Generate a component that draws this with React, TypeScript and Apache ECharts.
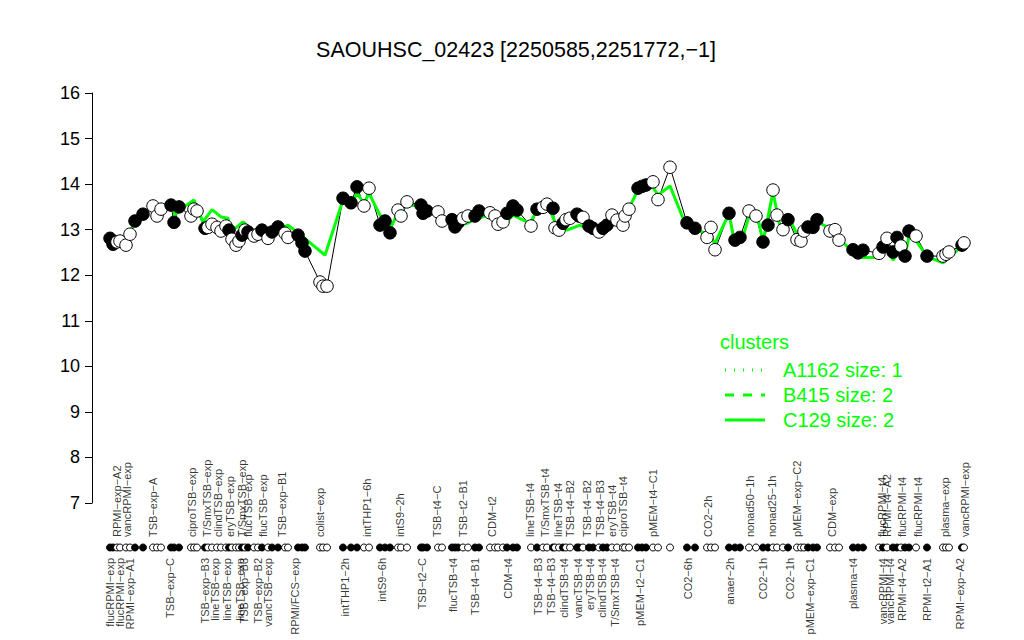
import React, { useEffect, useRef } from "react";
import * as echarts from "echarts";

const TITLE = "SAOUHSC_02423 [2250585,2251772,−1]";
const FONT = "'Liberation Sans', Arial, Helvetica, sans-serif";
const GREEN = "#00ff00";

// sample positions along the x axis (ordered), their expression values and fill flag (1 = filled)
const pointX = [18, 21, 25, 28, 34, 38, 43, 51, 61, 65, 69, 79, 82, 87, 99, 102, 105, 113, 116, 120, 125, 129, 134, 137, 140, 144, 147, 150, 153, 156, 162, 166, 170, 176, 180, 186, 193, 196, 206, 210, 213, 228, 231, 235, 251, 259, 265, 272, 277, 288, 293, 298, 306, 309, 315, 329, 331, 335, 346, 350, 360, 363, 366, 371, 376, 383, 387, 398, 403, 406, 411, 415, 421, 425, 439, 445, 451, 455, 461, 463, 467, 471, 474, 478, 485, 487, 491, 497, 501, 507, 511, 515, 520, 525, 531, 533, 537, 546, 550, 554, 561, 566, 578, 595, 603, 615, 619, 623, 637, 643, 648, 657, 664, 671, 676, 681, 685, 691, 696, 705, 709, 712, 716, 721, 725, 738, 743, 747, 761, 766, 771, 787, 791, 795, 801, 805, 809, 813, 817, 824, 835, 851, 854, 857, 870, 872];
const pointY = [12.81, 12.68, 12.73, 12.75, 12.66, 12.9, 13.19, 13.34, 13.52, 13.3, 13.45, 13.54, 13.16, 13.5, 13.3, 13.45, 13.41, 13.03, 13.05, 13.12, 13.05, 12.97, 13.08, 12.99, 12.79, 12.66, 12.75, 12.88, 12.99, 12.95, 12.86, 12.9, 12.99, 12.81, 12.95, 13.06, 12.92, 12.83, 12.88, 12.71, 12.53, 11.85, 11.76, 11.76, 13.69, 13.59, 13.94, 13.52, 13.91, 13.1, 13.19, 12.93, 13.43, 13.3, 13.61, 13.54, 13.36, 13.41, 13.39, 13.19, 13.22, 13.06, 13.15, 13.25, 13.3, 13.3, 13.41, 13.37, 13.3, 13.12, 13.17, 13.36, 13.52, 13.43, 13.08, 13.45, 13.49, 13.56, 13.47, 13.04, 12.99, 13.14, 13.22, 13.25, 13.34, 13.3, 13.27, 13.08, 13.03, 12.95, 13.03, 13.1, 13.32, 13.21, 13.1, 13.3, 13.45, 13.91, 13.95, 13.98, 14.05, 13.66, 14.37, 13.15, 13.03, 12.83, 13.05, 12.56, 13.36, 12.77, 12.83, 13.41, 13.3, 12.73, 13.1, 13.87, 13.32, 13.0, 13.22, 12.78, 12.75, 12.97, 13.06, 13.05, 13.22, 12.97, 13.0, 12.77, 12.56, 12.49, 12.55, 12.48, 12.62, 12.81, 12.51, 12.83, 12.64, 12.42, 12.97, 12.86, 12.42, 12.42, 12.46, 12.51, 12.66, 12.71];
const pointFilled = [1, 1, 0, 0, 0, 0, 1, 1, 0, 0, 0, 1, 1, 1, 0, 0, 0, 1, 0, 0, 0, 0, 0, 1, 0, 0, 0, 1, 0, 1, 0, 0, 1, 0, 1, 1, 0, 0, 1, 1, 1, 0, 0, 0, 1, 1, 1, 0, 0, 1, 1, 1, 0, 0, 0, 1, 1, 1, 0, 0, 1, 1, 1, 0, 0, 1, 1, 0, 0, 0, 0, 1, 1, 1, 0, 1, 0, 0, 1, 0, 0, 1, 0, 0, 1, 1, 0, 1, 1, 0, 1, 1, 0, 0, 0, 0, 0, 1, 1, 1, 0, 0, 0, 1, 1, 0, 0, 0, 1, 1, 1, 0, 0, 1, 1, 0, 0, 0, 1, 0, 0, 0, 1, 1, 1, 0, 0, 0, 1, 1, 1, 0, 1, 0, 1, 1, 0, 1, 1, 0, 1, 0, 0, 0, 1, 0];

// cluster C129 profile (green line)
const greenX = [18, 28, 38, 43, 51, 60, 68, 80, 83, 88, 102, 111, 120, 129, 136, 139, 151, 160, 176, 185, 196, 205, 233, 251, 260, 265, 272, 277, 288, 293, 298, 306, 315, 328, 335, 348, 360, 375, 385, 398, 410, 421, 438, 445, 458, 465, 475, 488, 501, 511, 531, 546, 561, 566, 578, 591, 595, 603, 616, 623, 637, 643, 650, 658, 666, 671, 681, 688, 698, 706, 715, 724, 741, 748, 768, 788, 795, 801, 808, 813, 818, 835, 851, 871];
const greenY = [12.83, 12.73, 12.93, 13.19, 13.36, 13.47, 13.43, 13.52, 13.32, 13.44, 13.65, 13.17, 13.44, 13.28, 13.25, 12.95, 13.17, 12.99, 12.88, 12.99, 13.1, 12.95, 12.44, 13.65, 13.58, 13.8, 13.58, 13.8, 13.32, 13.21, 13.03, 13.36, 13.54, 13.52, 13.39, 13.28, 13.05, 13.14, 13.25, 13.32, 13.06, 13.32, 13.14, 13.43, 13.43, 13.06, 12.99, 13.1, 12.95, 12.99, 13.21, 13.87, 13.93, 13.76, 13.96, 13.25, 13.17, 13.03, 12.88, 12.7, 13.36, 12.66, 12.77, 13.37, 13.25, 12.73, 13.83, 13.06, 13.21, 12.86, 13.03, 13.19, 12.99, 12.77, 12.39, 12.39, 12.62, 12.33, 12.55, 12.42, 12.95, 12.41, 12.27, 12.66];

// sample names written above the rug
const upperLabelX = [25, 35, 61, 100, 115, 126, 138, 150, 156, 171, 190, 228, 275, 308, 345, 371, 400, 438, 453, 466, 478, 495, 508, 520, 531, 561, 616, 658, 680, 705, 740, 790, 795, 810, 826, 853, 873];
const upperLabelText = ["RPMI−exp−A2", "vancRPMI−exp", "TSB−exp−A", "ciproTSB−exp", "T/SmxTSB−exp", "clindTSB−exp", "eryTSB−exp", "T/SmxTSB−exp", "flucTSB−exp", "flucTSB−exp", "TSB−exp−B1", "colist−exp", "intTHP1−6h", "intS9−2h", "TSB−t4−C", "TSB−t2−B1", "CDM−t2", "lineTSB−t4", "T/SmxTSB−t4", "lineTSB−t4", "TSB−t4−B2", "TSB−t4−B2", "TSB−t4−B3", "eryTSB−t4", "ciproTSB−t4", "pMEM−t4−C1", "CO2−2h", "nonad50−1h", "nonad25−1h", "pMEM−exp−C2", "CDM−exp", "flucRPMI−t4", "RPMI−t4−A2", "flucRPMI−t4", "flucRPMI−t4", "plasma−exp", "vancRPMI−exp"];

// sample names written below the rug
const lowerLabelX = [18, 28, 38, 78, 113, 123, 135, 148, 152, 166, 176, 203, 253, 290, 330, 361, 383, 416, 446, 459, 472, 486, 498, 510, 523, 548, 596, 638, 671, 698, 718, 761, 791, 798, 810, 835, 868];
const lowerLabelText = ["flucRPMI−exp", "flucRPMI−exp", "RPMI−exp−A1", "TSB−exp−C", "TSB−exp−B3", "lineTSB−exp", "lineTSB−exp", "lineTSB−exp", "TSB−exp−B3", "TSB−exp−B2", "vancTSB−exp", "RPMI/FCS−exp", "intTHP1−2h", "intS9−6h", "TSB−t2−C", "flucTSB−t4", "TSB−t4−B1", "CDM−t4", "TSB−t4−B3", "TSB−t4−B3", "clindTSB−t4", "vancTSB−t4", "eryTSB−t4", "clindTSB−t4", "T/SmxTSB−t4", "pMEM−t2−C1", "CO2−6h", "anaer−2h", "CO2−1h", "CO2−1h", "pMEM−exp−C1", "plasma−t4", "vancRPMI−t4", "vancRPMI−t4", "RPMI−t4−A2", "RPMI−t2−A1", "RPMI−exp−A2"];

const legendTitle = "clusters";
const legendNames = ["A1162 size: 1", "B415 size: 2", "C129 size: 2"];

const X_MIN = 0;
const X_MAX = 880;

export default function App() {
  const ref = useRef<HTMLDivElement>(null);

  useEffect(() => {
    if (!ref.current) return;
    const chart = echarts.init(ref.current, undefined, { renderer: "svg" });

    const points = pointX.map((x, i) => ({
      value: [x, pointY[i]],
      itemStyle: { color: pointFilled[i] ? "#000" : "#fff", borderColor: "#000", borderWidth: 1, opacity: 1 },
    }));
    const rug = pointX.map((x, i) => ({
      value: [x, 0],
      itemStyle: { color: pointFilled[i] ? "#000" : "#fff", borderColor: "#000", borderWidth: 1, opacity: 1 },
    }));
    const green = greenX.map((x, i) => [x, greenY[i]]);
    const upper = upperLabelX.map((x, i) => ({ value: [x, 1], name: upperLabelText[i] }));
    const lower = lowerLabelX.map((x, i) => ({ value: [x, -1], name: lowerLabelText[i] }));

    const labelBase = {
      show: true,
      formatter: (p: any) => p.name,
      rotate: 90,
      position: "inside",
      verticalAlign: "middle",
      color: "#000",
      fontSize: 11,
      fontFamily: FONT,
    };

    const legendY = [370, 395, 420];
    const legendDash: any[] = [[1, 8], [9, 9], "solid"];

    chart.setOption({
      animation: false,
      backgroundColor: "#fff",
      textStyle: { fontFamily: FONT },
      title: {
        text: TITLE,
        left: 511,
        top: 34,
        textAlign: "center",
        textStyle: { fontSize: 21.5, fontWeight: "normal", color: "#000", fontFamily: FONT },
      },
      grid: [
        { left: 92, top: 93, width: 880, height: 410 },
        { left: 92, top: 537, width: 880, height: 21 },
      ],
      xAxis: [
        { type: "value", gridIndex: 0, min: X_MIN, max: X_MAX, show: false },
        { type: "value", gridIndex: 1, min: X_MIN, max: X_MAX, show: false },
      ],
      yAxis: [
        {
          type: "value",
          gridIndex: 0,
          min: 7,
          max: 16,
          interval: 1,
          axisLine: { show: true, lineStyle: { color: "#000", width: 1 } },
          axisTick: { show: true, length: 7, lineStyle: { color: "#000" } },
          axisLabel: { color: "#000", fontSize: 18, margin: 12, fontFamily: FONT },
          splitLine: { show: false },
        },
        { type: "value", gridIndex: 1, min: -1, max: 1, show: false },
      ],
      series: [
        {
          type: "line",
          xAxisIndex: 0,
          yAxisIndex: 0,
          data: pointX.map((x, i) => [x, pointY[i]]),
          symbol: "none",
          lineStyle: { color: "#000", width: 1 },
          z: 1,
        },
        {
          type: "line",
          xAxisIndex: 0,
          yAxisIndex: 0,
          data: green,
          symbol: "none",
          lineStyle: { color: GREEN, width: 3 },
          z: 2,
        },
        {
          type: "scatter",
          xAxisIndex: 0,
          yAxisIndex: 0,
          data: points,
          symbol: "circle",
          symbolSize: 12.5,
          z: 3,
        },
        {
          type: "scatter",
          xAxisIndex: 1,
          yAxisIndex: 1,
          data: rug,
          symbol: "circle",
          symbolSize: 7,
          z: 3,
        },
        {
          type: "scatter",
          xAxisIndex: 1,
          yAxisIndex: 1,
          data: upper,
          symbolSize: 0.1,
          itemStyle: { color: "transparent" },
          label: { ...labelBase, align: "left" },
          z: 4,
        },
        {
          type: "scatter",
          xAxisIndex: 1,
          yAxisIndex: 1,
          data: lower,
          symbolSize: 0.1,
          itemStyle: { color: "transparent" },
          label: { ...labelBase, align: "right" },
          z: 4,
        },
      ],
      graphic: [
        {
          type: "text",
          left: 720,
          top: 332,
          style: { text: legendTitle, fill: GREEN, fontSize: 20, fontFamily: FONT },
        },
        ...legendNames.map((name, i) => ({
          type: "group",
          children: [
            {
              type: "line",
              shape: { x1: 725, y1: legendY[i], x2: 765, y2: legendY[i] },
              style: {
                stroke: GREEN,
                lineWidth: 3,
                lineDash: legendDash[i],
              },
            },
            {
              type: "text",
              x: 783,
              y: legendY[i],
              style: {
                text: name,
                fill: GREEN,
                fontSize: 20,
                fontFamily: FONT,
                verticalAlign: "middle",
                align: "left",
              },
            },
          ],
        })),
      ],
    });

    return () => chart.dispose();
  }, []);

  return (
    <div
      ref={ref}
      style={{ position: "fixed", left: 0, top: 0, width: 1024, height: 640, background: "#fff" }}
    />
  );
}
